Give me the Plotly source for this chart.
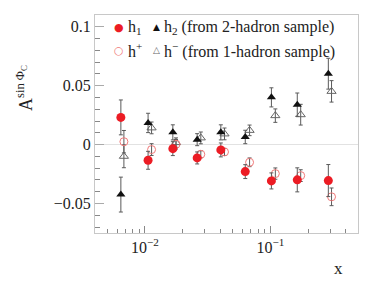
import plotly.graph_objects as go
import numpy as np

# x positions (Bjorken x) for the two samples
x_2had = [0.00643, 0.0106, 0.0167, 0.0261, 0.0403, 0.0631, 0.102, 0.164, 0.290]
x_1had = [0.0068, 0.0113, 0.0177, 0.0279, 0.0431, 0.0683, 0.1096, 0.1746, 0.3076]

# 2-hadron sample
h1_val = [0.0231, -0.0133, -0.0034, -0.0113, -0.0045, -0.0229, -0.0308, -0.0299, -0.0305]
h1_err = [0.0148, 0.0076, 0.0059, 0.0051, 0.0059, 0.0059, 0.0068, 0.0102, 0.0136]
h2_val = [-0.0424, 0.0184, 0.0104, 0.0042, 0.0104, 0.0065, 0.0401, 0.0339, 0.0602]
h2_err = [0.0148, 0.0082, 0.0064, 0.0051, 0.0064, 0.0057, 0.0081, 0.0099, 0.0131]

# 1-hadron sample
hp_val = [0.0025, -0.0042, 0.0003, -0.0082, -0.0062, -0.0150, -0.0246, -0.0263, -0.0443]
hp_err = [0.0095, 0.0050, 0.0040, 0.0030, 0.0030, 0.0037, 0.0048, 0.0050, 0.0075]
hm_val = [-0.0099, 0.0142, 0.0017, 0.0057, 0.0091, 0.0121, 0.0246, 0.0254, 0.0452]
hm_err = [0.0097, 0.0050, 0.0040, 0.0050, 0.0050, 0.0045, 0.0057, 0.0088, 0.0091]

x_major = [0.01, 0.1]
x_major_text = ["10<sup>−2</sup>", "10<sup>−1</sup>"]
x_minor = [0.004, 0.005, 0.006, 0.007, 0.008, 0.009, 0.02, 0.03, 0.04, 0.05,
           0.06, 0.07, 0.08, 0.09, 0.2, 0.3, 0.4, 0.5]
y_major = [-0.05, 0, 0.05, 0.1]
y_major_text = ["−0.05", "0", "0.05", "0.1"]

RED = "#ec1c24"
LRED = "#f07a7a"
ERRC = "#5a5a5a"
FONT = "Liberation Serif"

# The page body has an 8px default margin; size the figure so that it fills
# the 374x281 window exactly.
OFF = 8
WIN_W, WIN_H = 374, 281
W, H = WIN_W - OFF, WIN_H - OFF
# plot area in window pixels
PL, PR, PT, PB = 95, 358, 15, 233
L, R, T, B = PL - OFF, WIN_W - PR, PT - OFF, WIN_H - PB
PW, PH = PR - PL, PB - PT


def px(xw):
    return (xw - PL) / PW


def py(yw):
    return (PB - yw) / PH


fig = go.Figure()


def err(arr):
    return dict(type="data", array=arr, color=ERRC, thickness=1, width=2)


fig.add_trace(go.Scatter(x=x_1had, y=hm_val, error_y=err(hm_err), mode="markers",
                         marker=dict(symbol="triangle-up-open", size=8, color="#666",
                                     line=dict(width=1, color="#666")), name="h−"))
fig.add_trace(go.Scatter(x=x_1had, y=hp_val, error_y=err(hp_err), mode="markers",
                         marker=dict(symbol="circle-open", size=8, color=LRED,
                                     line=dict(width=1, color=LRED)), name="h+"))
fig.add_trace(go.Scatter(x=x_2had, y=h2_val, error_y=err(h2_err), mode="markers",
                         marker=dict(symbol="triangle-up", size=8, color="#111"), name="h2"))
fig.add_trace(go.Scatter(x=x_2had, y=h1_val, error_y=err(h1_err), mode="markers",
                         marker=dict(symbol="circle", size=9, color=RED), name="h1"))

fig.update_traces(showlegend=False)

fig.update_xaxes(
    type="log",
    range=[np.log10(0.004), np.log10(0.5)],
    tickmode="array", tickvals=x_major, ticktext=x_major_text,
    ticks="inside", ticklen=7, tickcolor="#888", tickwidth=1,
    minor=dict(tickmode="array", tickvals=x_minor, ticks="inside", ticklen=4,
               tickcolor="#888", showgrid=False),
    showline=True, linecolor="#c8c8c8", linewidth=1, mirror=True,
    showgrid=False, zeroline=False, automargin=False,
    tickfont=dict(family=FONT, size=16, color="#222"),
)
fig.update_yaxes(
    range=[-0.075, 0.11],
    tickmode="array", tickvals=y_major, ticktext=y_major_text,
    ticks="inside", ticklen=9, tickcolor="#aaa", tickwidth=1,
    minor=dict(dtick=0.01, tick0=0, ticks="inside", ticklen=5,
               tickcolor="#888", showgrid=False),
    showline=True, linecolor="#c8c8c8", linewidth=1, mirror=True,
    showgrid=False, zeroline=True, zerolinecolor="#e2e2e2", zerolinewidth=1,
    automargin=False,
    tickfont=dict(family=FONT, size=16, color="#222"),
)

ann = []
tf = dict(family=FONT, size=16, color="#222")
sf = dict(family="DejaVu Sans", size=9)
# legend row 1
ann.append(dict(x=px(119), y=py(27), text="●", font=dict(sf, color=RED, size=11)))
ann.append(dict(x=px(126), y=py(27), text="h<sub>1</sub>", xanchor="left", font=tf))
ann.append(dict(x=px(156), y=py(27), text="▲", font=dict(sf, color="#111")))
ann.append(dict(x=px(162), y=py(27), text="h<sub>2</sub> (from 2-hadron sample)",
                xanchor="left", font=tf))
# legend row 2
ann.append(dict(x=px(119), y=py(50), text="○", font=dict(sf, color=LRED, size=11)))
ann.append(dict(x=px(126), y=py(50), text="h<sup>+</sup>", xanchor="left", font=tf))
ann.append(dict(x=px(156), y=py(50), text="△", font=dict(sf, color="#666")))
ann.append(dict(x=px(162), y=py(50), text="h<sup>−</sup> (from 1-hadron sample)",
                xanchor="left", font=tf))
# axis titles
ann.append(dict(x=px(338), y=py(268), text="x", font=dict(family=FONT, size=17, color="#222")))
ann.append(dict(x=px(24), y=py(88), text="A<sup>sin Φ<sub>C</sub></sup>", textangle=-90,
                font=dict(family=FONT, size=18, color="#222")))

for a in ann:
    a.setdefault("xanchor", "center")
    a.update(xref="paper", yref="paper", showarrow=False, yanchor="middle")

fig.update_layout(
    width=W, height=H,
    margin=dict(l=L, r=R, t=T, b=B, autoexpand=False),
    plot_bgcolor="white", paper_bgcolor="white",
    annotations=ann,
    font=dict(family=FONT, color="#222"),
)

fig.write_html("out.html")
